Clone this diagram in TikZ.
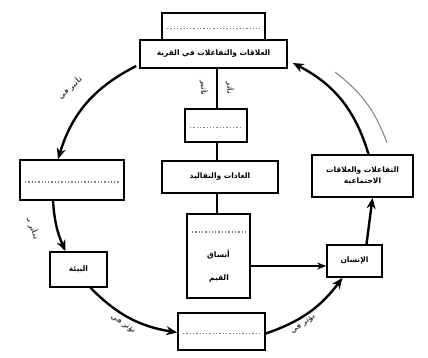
\documentclass[tikz,border=0pt]{standalone}
\usepackage{fontspec}
\newfontfamily\arabicfont[Script=Arabic]{DejaVu Sans}
\TeXXeTstate=1
\usetikzlibrary{arrows.meta}
\newcommand{\arb}[1]{\beginR #1\endR}

\begin{document}
\begin{tikzpicture}[x=1pt, y=-1pt, >={Stealth[length=11pt,width=9pt]},
	caixa/.style={draw, line width=1.6pt, inner sep=2pt, align=center,
		font=\arabicfont\bfseries\fontsize{7.5}{11}\selectfont},
	vazia/.style={caixa, path picture={\draw[dotted, line width=1.3pt, gray]
		([xshift=5pt,yshift=-2pt]path picture bounding box.west) --
		([xshift=-5pt,yshift=-2pt]path picture bounding box.east);}},
	seta/.style={->, line width=2.4pt},
	rotulo/.style={font=\arabicfont\bfseries\fontsize{7}{8}\selectfont, text=black!75, inner sep=1pt}]
	\useasboundingbox (0,0) rectangle (428,358);
	
	% Caixas
	\node[vazia, minimum width=103pt, minimum height=27pt] (topblank) at (213.5,26.5) {};
	\node[caixa, minimum width=147pt, minimum height=28pt] (topbox) at (213.5,54) {\arb{العلاقات والتفاعلات في القرية}};
	\node[vazia, minimum width=62pt, minimum height=33pt] (midblank) at (216,125.5) {};
	\node[caixa, minimum width=116pt, minimum height=32pt] (customs) at (220,177) {\arb{العادات والتقاليد}};
	\node[vazia, minimum width=63pt, minimum height=84pt, path picture={\draw[dotted, line width=1.3pt, gray]
		([xshift=5pt,yshift=-18pt]path picture bounding box.north west) --
		([xshift=-5pt,yshift=-18pt]path picture bounding box.north east);}] (values) at (218.5,256) {};
	\node[vazia, minimum width=104pt, minimum height=40pt] (leftblank) at (72,180) {};
	\node[caixa, minimum width=57pt, minimum height=35pt] (env) at (78.5,269.5) {\arb{البيئة}};
	\node[vazia, minimum width=87pt, minimum height=37pt] (botblank) at (221.5,331.5) {};
	\node[caixa, minimum width=55pt, minimum height=32pt] (man) at (354.5,261) {\arb{الإنسان}};
	\node[caixa, minimum width=101pt, minimum height=42pt] (social) at (362.5,176) {\arb{التفاعلات والعلاقات}\\\arb{الاجتماعية}};
	
	% Textos da caixa central
	\node[font=\arabicfont\bfseries\fontsize{7.5}{8}\selectfont] (values1) at (218.5,255) {\arb{أنساق}};
	\node[font=\arabicfont\bfseries\fontsize{7.5}{8}\selectfont] (values2) at (219,279) {\arb{القيم}};
	
	% Setas do ciclo
	\draw[seta] ([xshift=-3pt,yshift=-12pt]topbox.west) to[bend right=23] ([xshift=-14pt]leftblank.north);
	\draw[seta] ([xshift=-19pt]leftblank.south) to[bend right=10] ([xshift=-13pt]env.north);
	\draw[seta] ([xshift=12pt]env.south) to[bend right=18] ([yshift=-1pt]botblank.west);
	\draw[seta] ([yshift=-2pt]botblank.east) to[bend right=17] ([xshift=-12pt]man.south);
	\draw[seta] ([xshift=12pt]man.north) -- ([xshift=10pt]social.south);
	\draw[seta] ([xshift=6pt]social.north) to[bend right=23] ([xshift=5pt,yshift=-9pt]topbox.east);
	\coordinate (g1) at (335,72);
	\coordinate (g2) at (387,143);
	\draw[line width=1pt, gray] (g1) to[bend left=16] (g2);
	
	% Ligacoes centrais
	\draw[line width=1.8pt] ([xshift=3.5pt]topbox.south) -- ([xshift=1pt]midblank.north);
	\draw[line width=1.8pt] ([xshift=1pt]midblank.south) -- ([xshift=-3pt]customs.north);
	\draw[line width=1.8pt] ([xshift=-3pt]customs.south) -- ([xshift=-1.5pt]values.north);
	\draw[->, >={Stealth[length=9pt,width=7pt]}, line width=1.8pt] ([yshift=-10pt]values.east) -- ([yshift=-5pt]man.west);
	
	% Rotulos
	\node[rotulo, rotate=42] (lab1) at (70,88) {\arb{تأثير في}};
	\node[rotulo, rotate=-70] (lab2) at (33,228) {\arb{تتأثر بـ}};
	\node[rotulo, rotate=-35] (lab3) at (123,324) {\arb{تؤثر في}};
	\node[rotulo, rotate=35] (lab4) at (303,324) {\arb{يؤثر في}};
	\node[rotulo, rotate=-90] (lab5) at (204,88) {\arb{تأثير}};
	\node[rotulo, rotate=-90] (lab6) at (230,88) {\arb{تأثر}};
\end{tikzpicture}
\end{document}
